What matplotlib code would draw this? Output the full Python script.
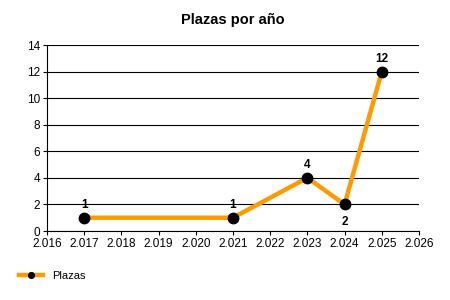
import matplotlib
matplotlib.use("Agg")
from matplotlib import pyplot as plt
from matplotlib.ticker import FuncFormatter, MultipleLocator

plt.rcParams['font.family'] = ['Liberation Sans', 'DejaVu Sans']

years = [2017, 2021, 2023, 2024, 2025]
plazas = [1, 1, 4, 2, 12]
label_below = [False, False, False, True, False]

fig = plt.figure(figsize=(4.5, 3), dpi=100)
ax = fig.add_axes([0.1044, 0.23, 0.8267, 0.62])

ax.plot(years, plazas, color="#FF9A00", linewidth=3.2, marker="o",
        markersize=7.5, markerfacecolor="black", markeredgecolor="black",
        label="Plazas", zorder=3)

for x, y, below in zip(years, plazas, label_below):
    off = -17 if below else 5
    ax.annotate(str(y), (x, y), xytext=(0, off), textcoords="offset points",
                ha="center", va="bottom", fontsize=8.5, fontweight="bold")

ax.set_xlim(2016, 2026)
ax.set_ylim(0, 14)
ax.xaxis.set_major_locator(MultipleLocator(1))
ax.yaxis.set_major_locator(MultipleLocator(2))
ax.xaxis.set_major_formatter(FuncFormatter(lambda v, p: f"{int(v):,}".replace(",", ".")))
ax.grid(axis="y", color="black", linewidth=0.8)
ax.set_axisbelow(True)
for s in ["top", "right"]:
    ax.spines[s].set_visible(False)
ax.tick_params(labelsize=8.5, length=3, direction="out", pad=2)
ax.set_title("Plazas por año", fontsize=10.5, fontweight="bold", pad=15)

fig.legend(loc="lower left", bbox_to_anchor=(0.02, 0.03), frameon=False,
           fontsize=8, handlelength=2.2, markerscale=0.55)

fig.savefig("out.png", dpi=100)
